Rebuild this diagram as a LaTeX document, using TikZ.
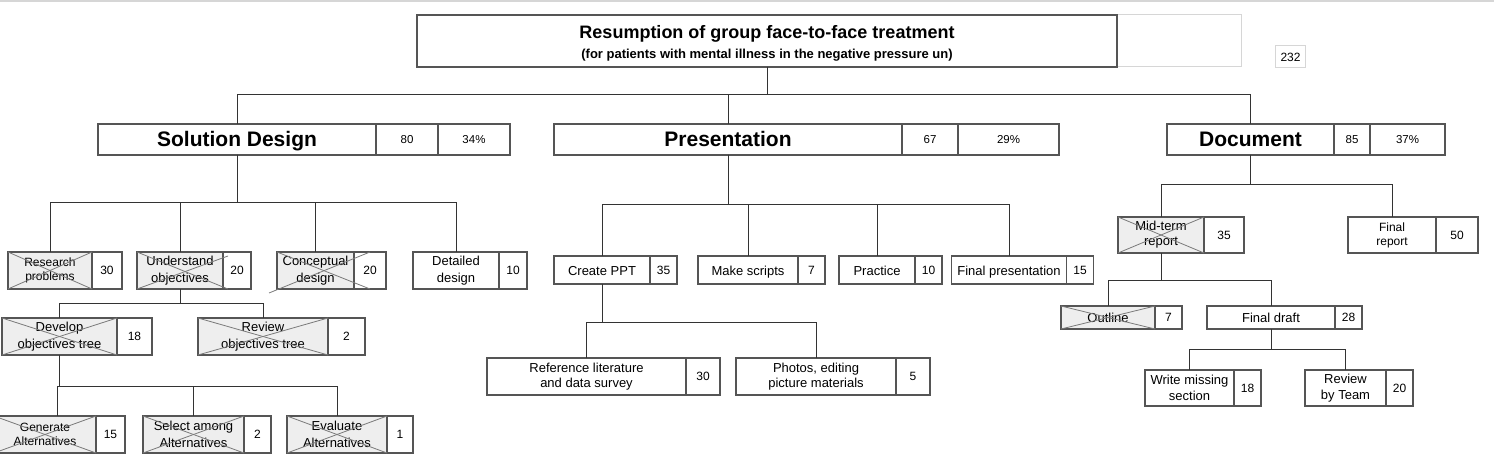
\documentclass[tikz,border=0pt]{standalone}
\usepackage{fontspec}
\setmainfont{Liberation Sans}
\usetikzlibrary{calc}
\definecolor{boxLine}{HTML}{555555}
\definecolor{linkLine}{HTML}{333333}
\definecolor{doneFill}{HTML}{EEEEEE}
\definecolor{crossLine}{HTML}{7A7A7A}
\definecolor{ghostLine}{HTML}{D6D6D6}

\begin{document}
\begin{tikzpicture}[
  x=1pt, y=-1pt,
  every node/.style={font=\fontsize{13}{16.5}\selectfont, inner sep=0pt, outer sep=0pt},
  box/.style={draw=boxLine, line width=1.1pt, fill=white, align=center},
  donebox/.style={box, fill=doneFill},
  oneline/.style={text height=12.4, text depth=1},
  numbox/.style={box, anchor=west, font=\fontsize{12}{14}\selectfont},
  headbox/.style={box, minimum height=31, text height=17.5, text depth=2.5, font=\bfseries\fontsize{21}{24}\selectfont},
  headnum/.style={box, anchor=west, minimum height=31, font=\fontsize{11.5}{13}\selectfont},
  link/.style={draw=linkLine, line width=1pt},
  xline/.style={draw=crossLine, line width=0.8pt}
]
  \useasboundingbox (0,0) rectangle (1494,473);
  \draw[ghostLine, line width=1.5pt] (0,1) -- (1494,1);

  % Title and total
  \node[draw=ghostLine, line width=1pt, minimum width=124, minimum height=52] (ttlX) at (1179,41) {};
  \node[box, minimum width=700, minimum height=52] (ttl) at (767,41) {};
  \node[align=center, font=\bfseries\fontsize{13}{19.5}\selectfont] (ttlTxt) at ($(ttl.center)+(0,2.5)$)
    {{\fontsize{18}{21}\selectfont Resumption of group face-to-face treatment}\\(for patients with mental illness in the negative pressure un)};
  \node[draw=ghostLine, line width=1pt, minimum width=30, minimum height=22, font=\fontsize{12}{14}\selectfont] (tot) at (1290.5,57) {232};

  % Main branches
  \node[headbox, minimum width=278] (sd) at (237,139.5) {Solution Design};
  \node[headnum, minimum width=62] (sdN) at (sd.east) {80};
  \node[headnum, minimum width=72] (sdP) at (sdN.east) {34\%};

  \node[headbox, minimum width=348] (pr) at (728,139.5) {Presentation};
  \node[headnum, minimum width=56] (prN) at (pr.east) {67};
  \node[headnum, minimum width=101] (prP) at (prN.east) {29\%};

  \node[headbox, minimum width=167] (dc) at (1250.5,139.5) {Document};
  \node[headnum, minimum width=36] (dcN) at (dc.east) {85};
  \node[headnum, minimum width=75] (dcP) at (dcN.east) {37\%};

  % Solution Design tasks
  \node[donebox, minimum width=84, minimum height=37, font=\fontsize{12}{13.5}\selectfont] (rp) at (50,270.5) {Research\\problems};
  \node[numbox, minimum width=30, minimum height=37] (rpN) at (rp.east) {30};
  \node[donebox, minimum width=86, minimum height=37] (uo) at (180,270.5) {Understand\\objectives};
  \node[numbox, minimum width=28, minimum height=37] (uoN) at (uo.east) {20};
  \node[donebox, minimum width=77, minimum height=37] (cd) at (315.5,270.5) {Conceptual\\design};
  \node[numbox, minimum width=32, minimum height=37] (cdN) at (cd.east) {20};
  \node[box, minimum width=86, minimum height=37] (dd) at (456,270.5) {Detailed\\design};
  \node[numbox, minimum width=28, minimum height=37] (ddN) at (dd.east) {10};

  \node[donebox, minimum width=115, minimum height=37] (do) at (59.5,336.5) {Develop\\objectives tree};
  \node[numbox, minimum width=35, minimum height=37] (doN) at (do.east) {18};
  \node[donebox, minimum width=130, minimum height=37] (ro) at (263,336.5) {Review\\objectives tree};
  \node[numbox, minimum width=37, minimum height=37] (roN) at (ro.east) {2};

  \node[donebox, minimum width=102, minimum height=37, font=\fontsize{12}{13.5}\selectfont] (ga) at (45,434.5) {Generate\\Alternatives};
  \node[numbox, minimum width=29, minimum height=37] (gaN) at (ga.east) {15};
  \node[donebox, minimum width=101, minimum height=37] (sa) at (193.5,434.5) {Select among\\Alternatives};
  \node[numbox, minimum width=27, minimum height=37] (saN) at (sa.east) {2};
  \node[donebox, minimum width=100, minimum height=37] (ea) at (337,434.5) {Evaluate\\Alternatives};
  \node[numbox, minimum width=26, minimum height=37] (eaN) at (ea.east) {1};

  % Presentation tasks
  \node[box, oneline, minimum width=96, minimum height=28] (cp) at (602,270) {Create PPT};
  \node[numbox, minimum width=27, minimum height=28] (cpN) at (cp.east) {35};
  \node[box, oneline, minimum width=100, minimum height=28] (ms) at (748,270) {Make scripts};
  \node[numbox, minimum width=27, minimum height=28] (msN) at (ms.east) {7};
  \node[box, oneline, minimum width=76, minimum height=28] (pc) at (877,270) {Practice};
  \node[numbox, minimum width=27, minimum height=28] (pcN) at (pc.east) {10};
  \node[box, oneline, minimum width=115, minimum height=28] (fp) at (1009,270) {Final presentation};
  \node[numbox, minimum width=27, minimum height=28] (fpN) at (fp.east) {15};

  \node[box, minimum width=199, minimum height=37, font=\fontsize{13}{15}\selectfont] (rl) at (586.5,376.5) {Reference literature\\and data survey};
  \node[numbox, minimum width=34, minimum height=37] (rlN) at (rl.east) {30};
  \node[box, minimum width=160, minimum height=37, font=\fontsize{13}{15}\selectfont] (ph) at (816,376.5) {Photos, editing\\picture materials};
  \node[numbox, minimum width=34, minimum height=37] (phN) at (ph.east) {5};

  % Document tasks
  \node[donebox, minimum width=86, minimum height=36, font=\fontsize{13}{15}\selectfont] (mt) at (1161,235) {Mid-term\\report};
  \node[numbox, minimum width=40, minimum height=36] (mtN) at (mt.east) {35};
  \node[box, minimum width=88, minimum height=36, font=\fontsize{12}{14}\selectfont] (fr) at (1392,235) {Final\\report};
  \node[numbox, minimum width=42, minimum height=36] (frN) at (fr.east) {50};

  \node[donebox, oneline, text height=10, minimum width=94, minimum height=23] (ol) at (1108,317.5) {Outline};
  \node[numbox, minimum width=27, minimum height=23] (olN) at (ol.east) {7};
  \node[box, oneline, text height=10, minimum width=128, minimum height=23] (fd) at (1271,317.5) {Final draft};
  \node[numbox, minimum width=27, minimum height=23] (fdN) at (fd.east) {28};

  \node[box, minimum width=89, minimum height=36] (wm) at (1189.5,388) {Write missing\\section};
  \node[numbox, minimum width=27, minimum height=36] (wmN) at (wm.east) {18};
  \node[box, minimum width=81, minimum height=36] (rt) at (1345.5,388) {Review\\by Team};
  \node[numbox, minimum width=27, minimum height=36] (rtN) at (rt.east) {20};

  % Done marks
  \foreach \n in {rp,do,ro,ga,sa,ea,mt,ol} {
    \draw[xline] (\n.north west) -- (\n.south east);
    \draw[xline] (\n.south west) -- (\n.north east);
  }
  \draw[xline] (uo.north west) -- ($(uo.south east)+(5,0)$);
  \draw[xline] (uo.south west) -- ($(uo.north east)+(5,4)$);
  \draw[xline] (cd.north west) -- ($(cd.south east)+(16,0)$);
  \draw[xline] ($(cd.south west)+(-8,4)$) -- ($(cd.north east)+(16,0)$);

  % Tree links
  \coordinate (ttlBus) at ($(ttl.south)+(0,28)$);
  \foreach \c in {sd,pr,dc} \draw[link] (ttl.south) -- (ttlBus) -| (\c.north);

  \coordinate (sdBus) at ($(sd.south)+(0,48)$);
  \foreach \c in {rp,uo,cd,dd} \draw[link] (sd.south) -- (sdBus) -| (\c.north);
  \coordinate (uoBus) at ($(uo.south)+(0,14)$);
  \foreach \c in {do,ro} \draw[link] (uo.south) -- (uoBus) -| (\c.north);
  \coordinate (doBus) at ($(do.south)+(0,31)$);
  \draw[link] (do.south) -- (doBus) -| ($(ga.north)+(12,0)$);
  \foreach \c in {sa,ea} \draw[link] (do.south) -- (doBus) -| (\c.north);

  \coordinate (prBus) at ($(pr.south)+(0,50)$);
  \foreach \c in {cp,ms,pc,fp} \draw[link] (pr.south) -- (prBus) -| (\c.north);
  \coordinate (cpBus) at ($(cp.south)+(0,38)$);
  \foreach \c in {rl,ph} \draw[link] (cp.south) -- (cpBus) -| (\c.north);

  \coordinate (dcBus) at ($(dc.south)+(0,30)$);
  \foreach \c in {mt,fr} \draw[link] (dc.south) -- (dcBus) -| (\c.north);
  \coordinate (mtBus) at ($(mt.south)+(0,27)$);
  \foreach \c in {ol,fd} \draw[link] (mt.south) -- (mtBus) -| (\c.north);
  \coordinate (fdBus) at ($(fd.south)+(0,20)$);
  \foreach \c in {wm,rt} \draw[link] (fd.south) -- (fdBus) -| (\c.north);
\end{tikzpicture}
\end{document}
